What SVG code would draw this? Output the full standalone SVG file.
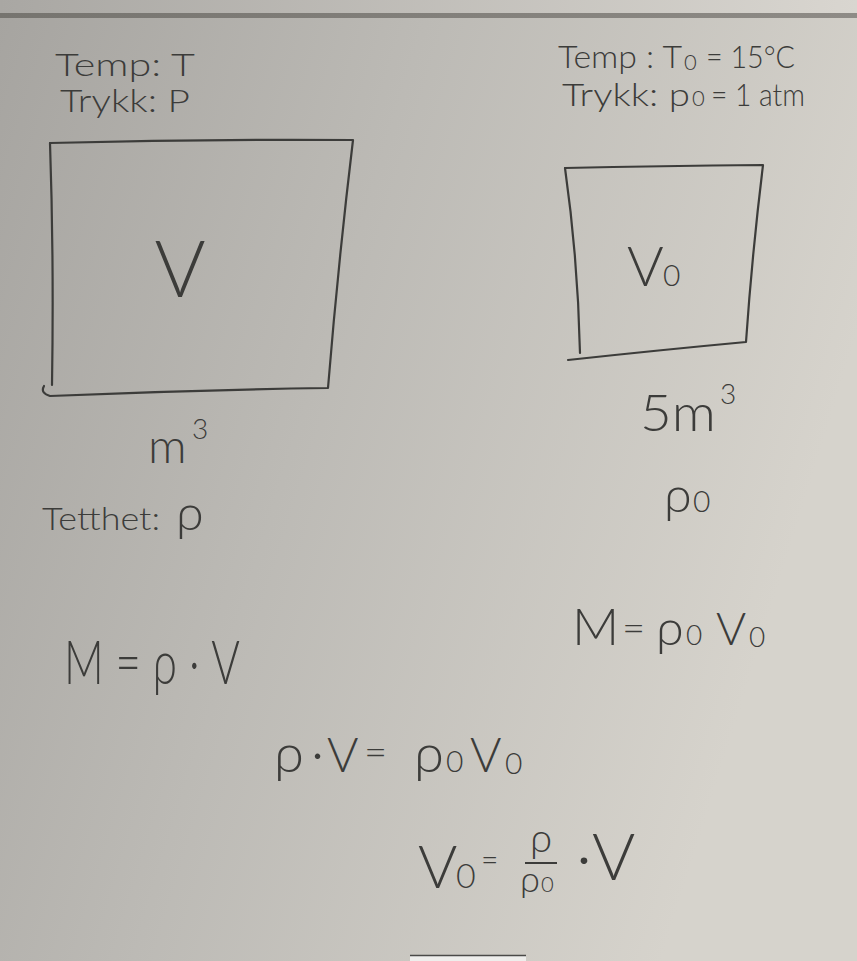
<svg xmlns="http://www.w3.org/2000/svg" width="857" height="961" viewBox="0 0 857 961">
<defs>
<linearGradient id="bg" x1="0" y1="0" x2="1" y2="0.35">
<stop offset="0" stop-color="#a6a4a0"/>
<stop offset="0.45" stop-color="#bcbab5"/>
<stop offset="1" stop-color="#d6d3cc"/>
</linearGradient>
<linearGradient id="top" x1="0" y1="0" x2="1" y2="0">
<stop offset="0" stop-color="#a9a7a3"/>
<stop offset="1" stop-color="#d9d6d0"/>
</linearGradient>
<linearGradient id="rail" x1="0" y1="0" x2="1" y2="0">
<stop offset="0" stop-color="#76746f"/>
<stop offset="1" stop-color="#8e8b86"/>
</linearGradient>
</defs>
<style>
.ink{fill:#3c3c3a;font-family:"Lato","Liberation Sans",sans-serif;font-weight:300}
.box{fill:none;stroke:#3c3c3a;stroke-width:2.2;stroke-linecap:round;stroke-linejoin:round}
</style>
<rect width="857" height="961" fill="url(#bg)"/>
<rect width="857" height="14" fill="url(#top)"/>
<rect y="13" width="857" height="5" fill="url(#rail)"/>
<rect x="410" y="955" width="116" height="6" fill="#eeeeec"/>
<line x1="410" y1="955.5" x2="526" y2="955.5" stroke="#4a4a48" stroke-width="1.5"/>

<g id="box-left">
<path class="box" d="M50,143 Q200,139 353,140 Q338,265 328,388 Q190,390 50,396 Q40,393 44,386"/>
<path class="box" d="M50,143 Q54,260 52,385"/>
<text class="ink" x="180" y="297" font-size="78" text-anchor="middle">V</text>
</g>
<g id="box-right">
<path class="box" d="M565,168 Q660,166 763,165 Q752,255 746,342 Q660,350 568,360"/>
<path class="box" d="M565,168 Q578,260 580,353"/>
<text class="ink" x="627" y="286" font-size="56">V</text>
<text class="ink" x="663" y="286" font-size="30">0</text>
</g>

<g id="left-labels">
<text class="ink" x="55" y="76" font-size="32" textLength="140" lengthAdjust="spacingAndGlyphs">Temp: T</text>
<text class="ink" x="60" y="112" font-size="32" textLength="130" lengthAdjust="spacingAndGlyphs">Trykk: P</text>
<text class="ink" x="148" y="463" font-size="48">m</text>
<text class="ink" x="192" y="439" font-size="28">3</text>
<text class="ink" x="42" y="530" font-size="32" textLength="118" lengthAdjust="spacingAndGlyphs">Tetthet:</text>
<text class="ink" x="176" y="530" font-size="50">ρ</text>
<text class="ink" x="64" y="684" font-size="62" textLength="176" lengthAdjust="spacingAndGlyphs">M = ρ · V</text>
</g>

<g id="right-labels">
<text class="ink" x="558" y="68" font-size="31" textLength="124" lengthAdjust="spacingAndGlyphs">Temp : T</text>
<text class="ink" x="684" y="70" font-size="22">0</text>
<text class="ink" x="706" y="68" font-size="31" textLength="89" lengthAdjust="spacingAndGlyphs">= 15°C</text>
<text class="ink" x="562" y="106" font-size="31" textLength="128" lengthAdjust="spacingAndGlyphs">Trykk: p</text>
<text class="ink" x="692" y="106" font-size="22">0</text>
<text class="ink" x="711" y="106" font-size="31" textLength="94" lengthAdjust="spacingAndGlyphs">= 1 atm</text>
<text class="ink" x="640" y="431" font-size="52" textLength="76" lengthAdjust="spacingAndGlyphs">5m</text>
<text class="ink" x="720" y="404" font-size="28">3</text>
<text class="ink" x="664" y="512" font-size="50">ρ</text>
<text class="ink" x="693" y="512" font-size="30">0</text>
<text class="ink" x="572" y="645" font-size="52">M</text>
<text class="ink" x="622" y="642" font-size="40">=</text>
<text class="ink" x="656" y="645" font-size="50">ρ</text>
<text class="ink" x="686" y="645" font-size="28">0</text>
<text class="ink" x="716" y="645" font-size="46">V</text>
<text class="ink" x="749" y="647" font-size="28">0</text>
</g>

<g id="equations">
<text class="ink" x="274" y="772" font-size="54">ρ</text>
<text class="ink" x="311" y="772" font-size="54">·</text>
<text class="ink" x="327" y="772" font-size="48">V</text>
<text class="ink" x="364" y="766" font-size="40">=</text>
<text class="ink" x="414" y="772" font-size="54">ρ</text>
<text class="ink" x="446" y="772" font-size="30">0</text>
<text class="ink" x="470" y="772" font-size="48">V</text>
<text class="ink" x="505" y="774" font-size="30">0</text>
<text class="ink" x="418" y="888" font-size="60">V</text>
<text class="ink" x="456" y="888" font-size="34">0</text>
<text class="ink" x="481" y="870" font-size="30">=</text>
<text class="ink" x="541" y="852" font-size="40" text-anchor="middle">ρ</text>
<line x1="525" y1="863" x2="557" y2="863" stroke="#3c3c3a" stroke-width="2"/>
<text class="ink" x="520" y="892" font-size="36">ρ</text>
<text class="ink" x="541" y="892" font-size="22">0</text>
<text class="ink" x="576" y="880" font-size="66">·V</text>
</g>
</svg>
